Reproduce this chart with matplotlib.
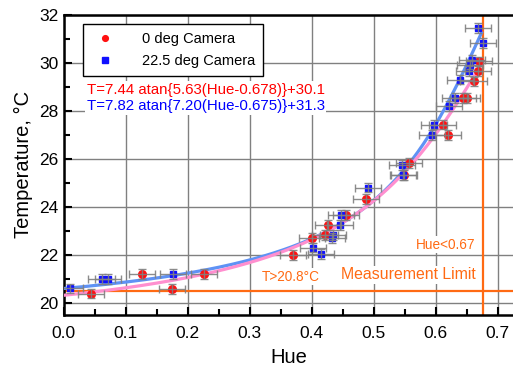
import numpy as np
import matplotlib
matplotlib.use("Agg")
import matplotlib.pyplot as plt

plt.rcParams['font.family'] = ['Liberation Sans', 'DejaVu Sans']

# data: 0 deg camera (red circles)
red_x = [0.044, 0.127, 0.175, 0.226, 0.370, 0.401, 0.422, 0.427, 0.455, 0.487,
         0.549, 0.557, 0.611, 0.620, 0.644, 0.650, 0.661, 0.668, 0.670]
red_y = [20.39, 21.20, 20.58, 21.20, 22.00, 22.70, 22.83, 23.25, 23.67, 24.32,
         25.33, 25.82, 27.42, 27.00, 28.53, 28.53, 29.22, 29.64, 30.05]
# data: 22.5 deg camera (blue squares)
blue_x = [0.010, 0.061, 0.072, 0.176, 0.402, 0.415, 0.432, 0.435, 0.446, 0.447,
          0.491, 0.545, 0.548, 0.594, 0.597, 0.622, 0.631, 0.639, 0.653, 0.655,
          0.658, 0.669, 0.677]
blue_y = [20.61, 20.99, 20.99, 21.20, 22.30, 22.03, 22.70, 22.83, 23.25, 23.67,
          24.80, 25.75, 25.33, 27.00, 27.42, 28.20, 28.53, 29.29, 29.64, 29.92,
          30.12, 31.45, 30.82]
hue_err = 0.021
temp_err = 0.2

# fit parameters: T = A atan{B(Hue-H0)} + C
red_fit = [7.44, 5.63, 0.678, 30.1]
blue_fit = [7.82, 7.20, 0.675, 31.3]

limit_T = 20.5
limit_hue = 0.677

x_ticks = [0.0, 0.1, 0.2, 0.3, 0.4, 0.5, 0.6, 0.7]
y_ticks = [20, 22, 24, 26, 28, 30, 32]

W, H = 513, 372
fig = plt.figure(figsize=(W / 100, H / 100), dpi=100)
ax = fig.add_axes([63.7 / W, 1 - 315 / H, 1 - 63.7 / W, (315 - 14.5) / H])

orange = '#ff6a13'
gray = '#808080'

# fit curves
for p, col in [(blue_fit, '#5f92f5'), (red_fit, '#ff8fcf')]:
    hh = np.linspace(0, p[2], 300)
    ax.plot(hh, p[0] * np.arctan(p[1] * (hh - p[2])) + p[3], color=col, lw=2.3, zorder=3,
            solid_capstyle='butt')

# limits
ax.axhline(limit_T, color=orange, lw=1.6, zorder=2)
ax.axvline(limit_hue, color=orange, lw=1.6, zorder=2)

# points
ax.plot(red_x, red_y, 'o', color='#ff1010', ms=5.5, zorder=4, label='0 deg Camera')
ax.plot(blue_x, blue_y, 's', color='#1010ff', ms=5, zorder=4, label='22.5 deg Camera')
for xs, ys in [(red_x, red_y), (blue_x, blue_y)]:
    ax.errorbar(xs, ys, xerr=hue_err, yerr=temp_err, fmt='none', ecolor=gray,
                elinewidth=1.0, capsize=3, capthick=1.0, zorder=5, alpha=0.9)

ax.set_xlim(0, 0.7247)
ax.set_ylim(19.5, 32)
ax.set_xticks(x_ticks)
ax.set_xticklabels([f'{v:.1f}' for v in x_ticks])
ax.set_yticks(y_ticks)
ax.set_xticks(np.arange(0.05, 0.72, 0.1), minor=True)
ax.set_yticks(np.arange(21, 32, 2), minor=True)
ax.tick_params(which='both', direction='in', labelsize=12.5, width=1.5, color='black')
ax.tick_params(which='major', length=6)
ax.tick_params(which='minor', length=4)
ax.tick_params(axis='x', pad=8)
ax.grid(True, which='major', color=gray, lw=1.0, zorder=1)
ax.set_axisbelow(True)
for s in ['left', 'bottom', 'top']:
    ax.spines[s].set_linewidth(1.8)
ax.spines['right'].set_visible(False)

ax.set_xlabel('Hue', fontsize=14.5, labelpad=5)
ax.set_ylabel('Temperature, °C', fontsize=14.5, labelpad=5)

leg = ax.legend(loc='upper left', bbox_to_anchor=(82.7 / W, 1 - 24.3 / H),
                bbox_transform=fig.transFigure, borderaxespad=0, fontsize=10.5,
                frameon=True, fancybox=False, edgecolor='black', framealpha=1,
                handlelength=2.0, handletextpad=1.5, borderpad=0.55, labelspacing=0.5,
                markerscale=0.75)
leg.get_frame().set_linewidth(1.0)
leg.set_zorder(10)

bb = dict(facecolor='white', edgecolor='none', pad=1)
ax.text(0.037, 28.875, 'T=7.44 atan{5.63(Hue-0.678)}+30.1', color='#ff0000', fontsize=10.8,
        va='center', ha='left', bbox=bb, zorder=6)
ax.text(0.037, 28.18, 'T=7.82 atan{7.20(Hue-0.675)}+31.3', color='#0000ff', fontsize=10.8,
        va='center', ha='left', bbox=bb, zorder=6)
ax.text(0.664, 22.42, 'Hue<0.67', color=orange, fontsize=9.8, va='center', ha='right',
        bbox=bb, zorder=6)
ax.text(0.664, 21.17, 'Measurement Limit', color=orange, fontsize=11.4, va='center',
        ha='right', bbox=bb, zorder=6)
ax.text(0.319, 21.1, 'T>20.8°C', color=orange, fontsize=9.8, va='center', ha='left',
        bbox=bb, zorder=6)

fig.savefig('out.png', dpi=100)
